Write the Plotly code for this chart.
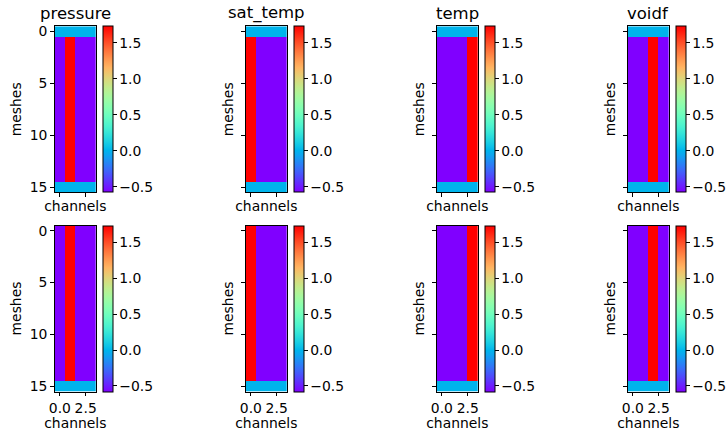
import numpy as np
import plotly.graph_objects as go

# ---- data ----
variables = ["pressure", "sat_temp", "temp", "voidf"]
n_meshes = 16
n_channels = 4
hot_channel = [1, 0, 3, 2]          # channel drawn in red for each variable
high_value = 1.732                   # red cells
low_value = -0.577                   # purple cells
pad_value = 0.0                      # cyan rows
pad_rows_top = [0, 15]               # first figure row
pad_rows_bottom = [15]               # second figure row
cbar_ticks = [-0.5, 0.0, 0.5, 1.0, 1.5]
y_ticks = [0, 5, 10, 15]
x_ticks = [0.0, 2.5]
x_ticktext = ["0.0", "2.5"]

# matplotlib "rainbow" colormap
def rainbow(t):
    r = np.clip(np.abs(2 * t - 0.5), 0, 1)
    g = np.clip(np.sin(t * np.pi), 0, 1)
    b = np.clip(np.cos(t * np.pi / 2), 0, 1)
    return "rgb(%d,%d,%d)" % (round(r * 255), round(g * 255), round(b * 255))

cscale = [[t, rainbow(t)] for t in np.linspace(0, 1, 41)]

W, H = 727, 431
FS = 13.9
col_left = [54.7, 245.7, 436.7, 627.7]
panel_w = 41.3
row_top = [26.3, 225.5]
panel_h = 166.0
cb_gap = 48.6
cb_w = 10

fig = go.Figure()
layout = {}
for r, pads in enumerate([pad_rows_top, pad_rows_bottom]):
    for c, var in enumerate(variables):
        k = r * 4 + c + 1
        z = []
        for m in range(n_meshes):
            if m in pads:
                z.append([pad_value] * n_channels)
            else:
                z.append([high_value if ch == hot_channel[c] else low_value
                          for ch in range(n_channels)])
        x0 = col_left[c]
        x1 = x0 + panel_w
        y0 = row_top[r]
        y1 = y0 + panel_h
        xa = "x" if k == 1 else "x%d" % k
        ya = "y" if k == 1 else "y%d" % k
        fig.add_trace(go.Heatmap(
            z=z, x=list(range(n_channels)), y=list(range(n_meshes)),
            xaxis=xa, yaxis=ya,
            colorscale=cscale, zmin=low_value, zmax=high_value,
            hoverinfo="skip",
            colorbar=dict(
                x=(x0 + cb_gap) / W, xanchor="left",
                y=1 - y0 / H, yanchor="top",
                len=panel_h / H, lenmode="fraction",
                thickness=cb_w, thicknessmode="pixels",
                xpad=0, ypad=0,
                outlinewidth=1, outlinecolor="black",
                ticks="outside", ticklen=3.5, tickwidth=1, tickcolor="black",
                tickvals=cbar_ticks, tickformat=".1f",
                tickfont=dict(size=FS, color="black"),
            ),
        ))
        kx = "xaxis" if k == 1 else "xaxis%d" % k
        ky = "yaxis" if k == 1 else "yaxis%d" % k
        layout[kx] = dict(
            domain=[x0 / W, x1 / W], anchor=ya,
            range=[-0.5, 3.5], autorange=False,
            tickvals=x_ticks, ticktext=x_ticktext,
            showticklabels=(r == 1),
            ticks="outside", ticklen=3.5, tickcolor="black",
            showline=True, mirror=True, linecolor="black", linewidth=1,
            showgrid=False, zeroline=False,
            tickfont=dict(size=FS, color="black"),
            title=dict(text="channels", font=dict(size=FS, color="black"),
                       standoff=(2 if r == 1 else 5)),
            automargin=False,
        )
        layout[ky] = dict(
            domain=[1 - y1 / H, 1 - y0 / H], anchor=xa,
            range=[15.5, -0.5], autorange=False,
            tickvals=y_ticks,
            showticklabels=(c == 0),
            ticks="outside", ticklen=3.5, tickcolor="black",
            showline=True, mirror=True, linecolor="black", linewidth=1,
            showgrid=False, zeroline=False,
            tickfont=dict(size=FS, color="black"),
            title=dict(text="meshes", font=dict(size=FS, color="black"),
                       standoff=(4 if c == 0 else 4)),
            automargin=False,
        )

annotations = []
for c, var in enumerate(variables):
    annotations.append(dict(
        text=var, x=(col_left[c] + panel_w / 2) / W, y=1 - (row_top[0] - 1) / H,
        xref="paper", yref="paper", xanchor="center", yanchor="bottom",
        showarrow=False, font=dict(size=16.5, color="black"),
    ))

fig.update_layout(
    width=W, height=H,
    margin=dict(l=0, r=0, t=0, b=0),
    paper_bgcolor="white", plot_bgcolor="white",
    font=dict(family="DejaVu Sans", color="black"),
    annotations=annotations,
    showlegend=False,
    **layout,
)
fig.write_html(
    "out.html",
    config={"displayModeBar": False},
    post_script="document.body.style.margin='0';document.body.style.padding='0';document.body.style.overflow='hidden';",
)
